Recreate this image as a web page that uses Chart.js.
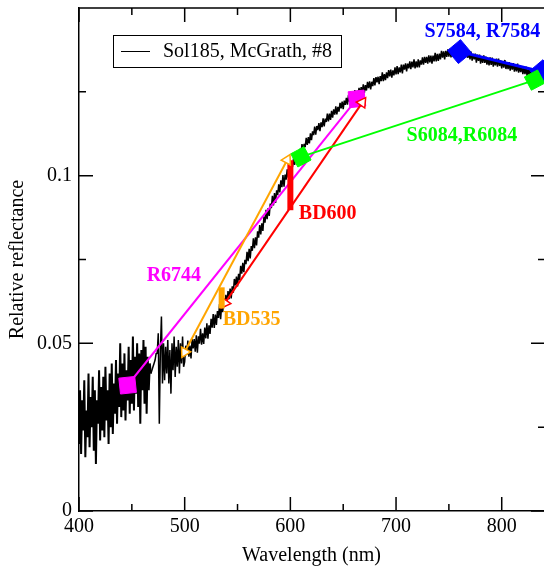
<!DOCTYPE html>
<html>
<head>
<meta charset="utf-8">
<script src="https://cdn.jsdelivr.net/npm/chart.js@4.4.0/dist/chart.umd.min.js"></script>
<style>
  html, body { margin: 0; padding: 0; background: #fff; }
</style>
</head>
<body>
<canvas id="chart" width="544" height="570"></canvas>
<script>
// tick values and labels
const xTickValues = [400, 500, 600, 700, 800]
const xMinorTicks = [450, 550, 650, 750]
const yTickValues = [0, 0.05, 0.1]
const yTickLabels = ['0', '0.05', '0.1']
const yMinorTicks = [0.025, 0.075, 0.125]

// Sol185 spectrum, 400-499 nm, one value per nm
const specBlueStart = 400
const specBlue = [
  0.020, 0.036, 0.017, 0.033, 0.024, 0.039, 0.016, 0.030, 0.022, 0.041,
  0.019, 0.034, 0.025, 0.040, 0.018, 0.036, 0.014, 0.033, 0.026, 0.042,
  0.021, 0.037, 0.024, 0.040, 0.022, 0.043, 0.027, 0.036, 0.020, 0.041,
  0.025, 0.044, 0.023, 0.038, 0.029, 0.045, 0.026, 0.041, 0.031, 0.050,
  0.028, 0.044, 0.030, 0.047, 0.027, 0.042, 0.033, 0.049, 0.029, 0.045,
  0.032, 0.052, 0.030, 0.046, 0.035, 0.050, 0.031, 0.047, 0.026, 0.048,
  0.036, 0.051, 0.032, 0.049, 0.029, 0.046, 0.036, 0.044, 0.041, 0.042,
  0.043, 0.044, 0.045, 0.047, 0.047, 0.053, 0.026, 0.048, 0.058, 0.038,
  0.050, 0.039, 0.049, 0.041, 0.051, 0.038, 0.048, 0.035, 0.050, 0.042,
  0.052, 0.040, 0.049, 0.043, 0.051, 0.041, 0.050, 0.044, 0.052, 0.043
]

// Sol185 spectrum, 500-840 nm, one value per nm
const specRedStart = 500
const specRed = [
  0.0445, 0.0493, 0.0465, 0.0508, 0.0460, 0.0493, 0.0455, 0.0513, 0.0485, 0.0513,
  0.0475, 0.0524, 0.0472, 0.0521, 0.0499, 0.0543, 0.0496, 0.0530, 0.0498, 0.0547,
  0.0515, 0.0560, 0.0514, 0.0554, 0.0528, 0.0573, 0.0547, 0.0587, 0.0546, 0.0586,
  0.0555, 0.0596, 0.0576, 0.0617, 0.0572, 0.0613, 0.0593, 0.0634, 0.0609, 0.0645,
  0.0615, 0.0656, 0.0632, 0.0663, 0.0634, 0.0670, 0.0651, 0.0692, 0.0673, 0.0699,
  0.0670, 0.0707, 0.0689, 0.0731, 0.0708, 0.0740, 0.0712, 0.0749, 0.0736, 0.0773,
  0.0745, 0.0782, 0.0753, 0.0790, 0.0776, 0.0813, 0.0784, 0.0816, 0.0792, 0.0834,
  0.0815, 0.0853, 0.0825, 0.0858, 0.0835, 0.0878, 0.0860, 0.0898, 0.0870, 0.0903,
  0.0880, 0.0917, 0.0903, 0.0940, 0.0911, 0.0948, 0.0919, 0.0956, 0.0942, 0.0974,
  0.0950, 0.0986, 0.0966, 0.1002, 0.0967, 0.1003, 0.0988, 0.1019, 0.0994, 0.1025,
  0.1008, 0.1036, 0.1025, 0.1051, 0.1032, 0.1053, 0.1039, 0.1071, 0.1056, 0.1080,
  0.1065, 0.1094, 0.1072, 0.1095, 0.1085, 0.1113, 0.1092, 0.1115, 0.1096, 0.1126,
  0.1106, 0.1132, 0.1121, 0.1146, 0.1122, 0.1148, 0.1136, 0.1157, 0.1133, 0.1159,
  0.1145, 0.1171, 0.1147, 0.1170, 0.1160, 0.1185, 0.1162, 0.1185, 0.1166, 0.1193,
  0.1173, 0.1198, 0.1182, 0.1207, 0.1183, 0.1205, 0.1191, 0.1217, 0.1201, 0.1221,
  0.1198, 0.1224, 0.1211, 0.1232, 0.1212, 0.1241, 0.1220, 0.1238, 0.1221, 0.1247,
  0.1231, 0.1255, 0.1230, 0.1253, 0.1242, 0.1262, 0.1240, 0.1264, 0.1248, 0.1272,
  0.1247, 0.1270, 0.1254, 0.1280, 0.1261, 0.1281, 0.1257, 0.1280, 0.1267, 0.1291,
  0.1269, 0.1294, 0.1278, 0.1295, 0.1273, 0.1297, 0.1282, 0.1308, 0.1282, 0.1303,
  0.1285, 0.1308, 0.1291, 0.1315, 0.1296, 0.1316, 0.1292, 0.1314, 0.1299, 0.1323,
  0.1302, 0.1327, 0.1303, 0.1323, 0.1308, 0.1331, 0.1305, 0.1331, 0.1316, 0.1335,
  0.1311, 0.1334, 0.1320, 0.1341, 0.1318, 0.1340, 0.1323, 0.1347, 0.1320, 0.1341,
  0.1323, 0.1347, 0.1323, 0.1344, 0.1331, 0.1353, 0.1331, 0.1354, 0.1336, 0.1354,
  0.1334, 0.1359, 0.1338, 0.1358, 0.1334, 0.1358, 0.1341, 0.1366, 0.1341, 0.1363,
  0.1342, 0.1364, 0.1347, 0.1372, 0.1352, 0.1371, 0.1347, 0.1372, 0.1354, 0.1377,
  0.1355, 0.1378, 0.1353, 0.1375, 0.1359, 0.1382, 0.1357, 0.1377, 0.1355, 0.1380,
  0.1358, 0.1379, 0.1360, 0.1379, 0.1351, 0.1371, 0.1353, 0.1374, 0.1351, 0.1373,
  0.1347, 0.1370, 0.1343, 0.1363, 0.1347, 0.1364, 0.1337, 0.1361, 0.1342, 0.1361,
  0.1334, 0.1356, 0.1336, 0.1359, 0.1336, 0.1355, 0.1331, 0.1349, 0.1329, 0.1353,
  0.1330, 0.1352, 0.1325, 0.1346, 0.1329, 0.1349, 0.1325, 0.1349, 0.1327, 0.1344,
  0.1320, 0.1342, 0.1322, 0.1345, 0.1318, 0.1336, 0.1318, 0.1339, 0.1313, 0.1335,
  0.1316, 0.1336, 0.1310, 0.1330, 0.1311, 0.1334, 0.1307, 0.1325, 0.1309, 0.1327,
  0.1303, 0.1323, 0.1303, 0.1325, 0.1297, 0.1318, 0.1300, 0.1320, 0.1296, 0.1316,
  0.1292, 0.1315, 0.1296, 0.1315, 0.1290, 0.1311, 0.1291, 0.1313, 0.1290, 0.1309,
  0.1290
]

// spectral parameters (wavelength nm, reflectance)
const r6744Wl = [446, 663]
const r6744Val = [0.0375, 0.1229]
const bd600LineWl = [538, 668]
const bd600LineVal = [0.0620, 0.1218]
const bd600BarWl = [600, 600]
const bd600BarVal = [0.0897, 0.1046]
const bd535LineWl = [500, 597]
const bd535LineVal = [0.0474, 0.1047]
const bd535BarWl = [535, 535]
const bd535BarVal = [0.0604, 0.0667]
const s6084Wl = [610, 831]
const s6084Val = [0.1056, 0.1285]
const s7584Wl = [760, 838]
const s7584Val = [0.1370, 0.1310]

const serif = "'Liberation Serif', 'DejaVu Serif', serif"
const MAGENTA = '#ff00ff'
const RED = '#ff0000'
const ORANGE = '#ffa500'
const GREEN = '#00ff00'
const BLUE = '#0000ff'

// label anchors: left edge / vertical middle, in data units
const paramLabels = [
  { text: 'S7584, R7584', color: BLUE, wl: 727, val: 0.1429 },
  { text: 'S6084,R6084', color: GREEN, wl: 710, val: 0.1118 },
  { text: 'BD600', color: RED, wl: 608, val: 0.0886 },
  { text: 'BD535', color: ORANGE, wl: 536, val: 0.0569 },
  { text: 'R6744', color: MAGENTA, wl: 464, val: 0.0701 }
]

const pts = (xs, ys) => xs.map((x, i) => ({ x, y: ys[i] }))

const spectrum = specBlue.map((v, i) => ({ x: specBlueStart + i, y: v }))
  .concat(specRed.map((v, i) => ({ x: specRedStart + i, y: v })))

const segment = (data, color, width, order, extra) => Object.assign({
  data,
  borderColor: color,
  backgroundColor: color,
  borderWidth: width,
  pointRadius: 0,
  order
}, extra || {})

const framePlugin = {
  id: 'frame',
  afterDatasetsDraw(chart) {
    const { ctx, chartArea: a, scales: { x, y } } = chart
    const right = a.right + 1
    ctx.save()
    ctx.strokeStyle = '#000'
    ctx.lineWidth = 1.5
    ctx.beginPath()
    ctx.moveTo(a.left, a.top)
    ctx.lineTo(right, a.top)
    const xTick = (v, len) => {
      const px = x.getPixelForValue(v)
      ctx.moveTo(px, a.bottom); ctx.lineTo(px, a.bottom - len)
      ctx.moveTo(px, a.top); ctx.lineTo(px, a.top + len)
    }
    const yTick = (v, len) => {
      const py = y.getPixelForValue(v)
      ctx.moveTo(a.left, py); ctx.lineTo(a.left + len, py)
      ctx.moveTo(right, py); ctx.lineTo(right - len, py)
    }
    xTickValues.forEach(v => xTick(v, 14))
    xMinorTicks.forEach(v => xTick(v, 7))
    yTickValues.forEach(v => yTick(v, 14))
    yMinorTicks.forEach(v => yTick(v, 7))
    ctx.stroke()

    // legend box
    ctx.lineWidth = 1
    ctx.strokeRect(113.5, 35.5, 228, 32)
    ctx.beginPath()
    ctx.moveTo(121, 51.5)
    ctx.lineTo(150, 51.5)
    ctx.stroke()
    ctx.fillStyle = '#000'
    ctx.font = '20px ' + serif
    ctx.textBaseline = 'middle'
    ctx.textAlign = 'left'
    ctx.fillText(chart.data.datasets[0].label, 163, 52)

    // parameter labels
    ctx.font = 'bold 20px ' + serif
    paramLabels.forEach(l => {
      ctx.fillStyle = l.color
      ctx.fillText(l.text, x.getPixelForValue(l.wl), y.getPixelForValue(l.val))
    })
    ctx.restore()
  }
}

new Chart(document.getElementById('chart'), {
  type: 'line',
  data: {
    datasets: [
      segment(spectrum, '#000', 1.5, 10, {
        label: 'Sol185, McGrath, #8',
        borderJoinStyle: 'bevel',
        // the noisy blue end reads as a solid band in the original
        segment: { borderWidth: c => (c.p0.parsed.x < 468 ? 2 : 1.5) }
      }),
      segment(pts(r6744Wl, r6744Val), MAGENTA, 2, 8, {
        pointStyle: 'rect', pointRadius: 11.3, pointRotation: -6, pointBorderWidth: 1
      }),
      segment(pts(bd600LineWl, bd600LineVal), RED, 2, 7, {
        pointStyle: 'triangle', pointRadius: 6, pointRotation: [215, 35],
        pointBackgroundColor: '#fff', pointBorderColor: RED, pointBorderWidth: 1.5
      }),
      segment(pts(bd600BarWl, bd600BarVal), RED, 6, 6, { borderCapStyle: 'butt' }),
      segment(pts(bd535LineWl, bd535LineVal), ORANGE, 2, 5, {
        pointStyle: 'triangle', pointRadius: 6, pointRotation: [208, 28],
        pointBackgroundColor: '#fff', pointBorderColor: ORANGE, pointBorderWidth: 1.5
      }),
      segment(pts(bd535BarWl, bd535BarVal), ORANGE, 6, 4, { borderCapStyle: 'butt' }),
      segment(pts(s7584Wl, s7584Val), BLUE, 3, 3, {
        pointStyle: 'rect', pointRadius: 12, pointRotation: -40, pointBorderWidth: 1
      }),
      segment(pts(s6084Wl, s6084Val), GREEN, 2, 2, {
        pointStyle: 'rect', pointRadius: 10.6, pointRotation: -28, pointBorderWidth: 1
      })
    ]
  },
  options: {
    responsive: false,
    animation: false,
    events: [],
    layout: { autoPadding: false, padding: { top: 8, right: 0, left: 0, bottom: 0 } },
    plugins: { legend: { display: false }, tooltip: { enabled: false } },
    scales: {
      x: {
        type: 'linear',
        min: 400,
        max: 840,
        afterBuildTicks: s => { s.ticks = xTickValues.map(v => ({ value: v })) },
        afterFit: s => { s.height = 59; s.paddingLeft = 0; s.paddingRight = 0 },
        grid: { display: false, drawTicks: false },
        border: { display: true, color: '#000', width: 1.5 },
        ticks: { color: '#000', font: { family: serif, size: 20 }, padding: 4, maxRotation: 0, autoSkip: false },
        title: {
          display: true, text: 'Wavelength (nm)', color: '#000',
          font: { family: serif, size: 20 }, padding: { top: 0, bottom: 2 }
        }
      },
      y: {
        type: 'linear',
        min: 0,
        max: 0.15,
        afterBuildTicks: s => { s.ticks = yTickValues.map(v => ({ value: v })) },
        afterFit: s => { s.width = 79; s.paddingTop = 0; s.paddingBottom = 0 },
        grid: { display: false, drawTicks: false },
        border: { display: true, color: '#000', width: 1.5 },
        ticks: {
          color: '#000', font: { family: serif, size: 20 }, padding: 7,
          callback: (v, i) => yTickLabels[i]
        },
        title: {
          display: true, text: 'Relative reflectance', color: '#000',
          font: { family: serif, size: 20 }, padding: { top: 6, bottom: 0 }
        }
      }
    }
  },
  plugins: [framePlugin]
})
</script>
</body>
</html>
